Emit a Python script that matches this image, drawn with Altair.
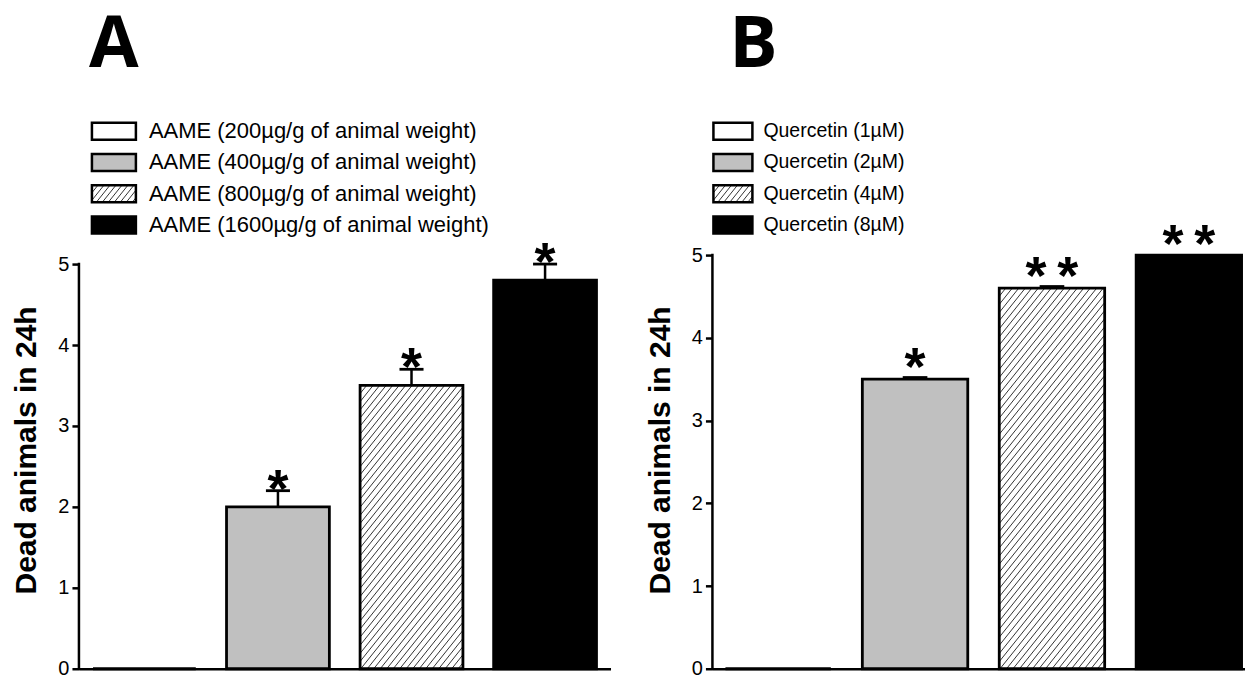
import altair as alt
import pandas as pd
import numpy as np

# ---------------- data ----------------
cats_a = ["AAME (200µg/g of animal weight)", "AAME (400µg/g of animal weight)",
          "AAME (800µg/g of animal weight)", "AAME (1600µg/g of animal weight)"]
vals_a = [0.0, 2.0, 3.5, 4.8]
errs_a = [0.0, 0.2, 0.2, 0.2]
stars_a = ["", "*", "*", "*"]

cats_b = ["Quercetin (1µM)", "Quercetin (2µM)", "Quercetin (4µM)", "Quercetin (8µM)"]
vals_b = [0.0, 3.5, 4.6, 5.0]
errs_b = [0.0, 0.02, 0.02, 0.0]
stars_b = ["", "*", "*\u2009*", "*\u2009*"]

fills = ["white", "#c0c0c0", "white", "black"]
hatched = [False, False, True, False]
y_ticks = [0, 1, 2, 3, 4, 5]
y_title = "Dead animals in 24h"

FONT = "Arial, Liberation Sans, sans-serif"
H = 414
HALF = 0.385


def hatch_px(L, R, B, T, spacing=6.5, k=1.25):
    """diagonal lines (bottom-left to top-right) clipped to a pixel rectangle"""
    h = T - B
    out = []
    x0 = L - h / k
    while x0 < R:
        x1, x2 = max(L, x0), min(R, x0 + h / k)
        if x2 > x1:
            out.append((x1, k * (x1 - x0), x2, k * (x2 - x0)))
        x0 += spacing
    return out


def panel(cats, vals, errs, stars, letter, xdom, width, ymax, star_dy, leg):
    sx = width / (xdom[1] - xdom[0])
    sy = H / ymax
    n = len(cats)
    df = pd.DataFrame({
        "idx": list(range(n)), "cat": cats, "val": vals, "err": errs,
        "star": stars, "fill": fills,
    })
    df["xl"] = df["idx"] - HALF
    df["xr"] = df["idx"] + HALF
    df["top"] = df["val"] + df["err"]
    df["cl"] = df["idx"] - 0.09
    df["cr"] = df["idx"] + 0.09
    df["zero"] = 0.0

    segs = []
    for i in range(n):
        if hatched[i] and vals[i] > 0:
            L = (i - HALF - xdom[0]) * sx
            R = (i + HALF - xdom[0]) * sx
            for (a, b, c, d) in hatch_px(L, R, 0, vals[i] * sy):
                segs.append({"hx": a / sx + xdom[0], "hy": b / sy,
                             "hx2": c / sx + xdom[0], "hy2": d / sy})
    hdf = pd.DataFrame(segs)

    xs = alt.Scale(domain=xdom, nice=False, zero=False)
    ys = alt.Scale(domain=[0, ymax], nice=False)
    xax = alt.Axis(title=None, labels=False, ticks=False, grid=False,
                   domainColor="black", domainWidth=2.5)
    yax = alt.Axis(values=y_ticks, format="d", title=y_title, grid=False, domain=False,
                   tickSize=7, tickWidth=2.5, tickColor="black",
                   labelFontSize=20, labelFont=FONT, labelColor="black",
                   labelPadding=3, titleFont=FONT, titleFontSize=30,
                   titleFontWeight="bold", titleColor="black",
                   titleX=-43, titleY=195, titleAngle=-90,
                   titleBaseline="alphabetic")

    base = alt.Chart(df)
    fill_layer = base.mark_rect(strokeWidth=0).encode(
        x=alt.X("xl:Q", scale=xs, axis=xax), x2="xr:Q",
        y=alt.Y("val:Q", scale=ys, axis=yax), y2="zero:Q",
        fill=alt.Fill("fill:N", scale=None))
    hatch_layer = alt.Chart(hdf).mark_rule(strokeWidth=1, color="#333").encode(
        x="hx:Q", x2="hx2:Q", y="hy:Q", y2="hy2:Q")
    outline = base.mark_rect(fillOpacity=0, stroke="black", strokeWidth=2.8).encode(
        x="xl:Q", x2="xr:Q", y="val:Q", y2="zero:Q")
    eb = base.transform_filter("datum.err > 0")
    err_v = eb.mark_rule(strokeWidth=2.5, color="black").encode(
        x="idx:Q", y="val:Q", y2="top:Q")
    err_c = eb.mark_rule(strokeWidth=2.8, color="black").encode(
        x="cl:Q", x2="cr:Q", y="top:Q")
    star_layer = base.mark_text(fontSize=54, fontWeight="bold", font=FONT,
                                baseline="alphabetic", dy=star_dy, color="black").encode(
        x="idx:Q", y="top:Q", text="star:N")
    yline = alt.Chart(pd.DataFrame({"lo": [min(y_ticks)], "hi": [max(y_ticks)]})).mark_rule(
        strokeWidth=2.5, color="black", strokeCap="square").encode(
        x=alt.value(0), y="lo:Q", y2="hi:Q")

    # ---- legend (pixel layout above the plot) ----
    lx, lw, lh, ltx, ly0, lstep, letx, lfs = leg
    ldf = pd.DataFrame({"cat": cats, "fill": fills, "row": list(range(n))})
    ldf["cy"] = ly0 + ldf["row"] * lstep
    ldf["bx"] = lx
    ldf["bx2"] = lx + lw
    ldf["by"] = ldf["cy"] - lh / 2
    ldf["by2"] = ldf["cy"] + lh / 2
    ldf["tx"] = ltx
    lsegs = []
    for i in range(n):
        if hatched[i]:
            cy = ly0 + i * lstep
            for (a, b, c, d) in hatch_px(lx, lx + lw, 0, lh, spacing=6):
                lsegs.append({"x": a, "y": cy + lh / 2 - b, "x2": c, "y2": cy + lh / 2 - d})
    lsdf = pd.DataFrame(lsegs)
    lb = alt.Chart(ldf)
    leg_fill = lb.mark_rect(strokeWidth=0).encode(
        x=alt.X("bx:Q", scale=None), x2="bx2:Q",
        y=alt.Y("by:Q", scale=None), y2="by2:Q",
        fill=alt.Fill("fill:N", scale=None))
    leg_hatch = alt.Chart(lsdf).mark_rule(strokeWidth=1, color="#333").encode(
        x=alt.X("x:Q", scale=None), x2="x2:Q",
        y=alt.Y("y:Q", scale=None), y2="y2:Q")
    leg_out = lb.mark_rect(fillOpacity=0, stroke="black", strokeWidth=2.5).encode(
        x=alt.X("bx:Q", scale=None), x2="bx2:Q",
        y=alt.Y("by:Q", scale=None), y2="by2:Q")
    leg_txt = lb.mark_text(align="left", baseline="middle", fontSize=lfs,
                           font=FONT, color="black").encode(
        x=alt.X("tx:Q", scale=None), y=alt.Y("cy:Q", scale=None), text="cat:N")
    let = alt.Chart(pd.DataFrame({"t": [letter]})).mark_text(
        fontSize=72, fontWeight="bold", font="Open Sans", color="black",
        align="center", baseline="alphabetic").encode(
        x=alt.value(letx), y=alt.value(-188), text="t:N")

    return alt.layer(fill_layer, hatch_layer, outline, err_v, err_c, star_layer,
                     yline, leg_fill, leg_hatch, leg_out, leg_txt, let).properties(
        width=width, height=H)


pa = panel(cats_a, vals_a, errs_a, stars_a, "A", [-0.49, 3.49], 532, 414 * 5 / 405, 16,
           (13, 44, 17, 70, -124, 31.3, 35, 22))
pb = panel(cats_b, vals_b, errs_b, stars_b, "B", [-0.48, 3.41], 533, 5.0, 7,
           (1, 39, 17, 51, -124, 31.3, 41, 19.5))

chart = alt.hconcat(pa, pb, spacing=102, bounds="flush").properties(
    padding={"left": 4, "top": 1, "right": 0, "bottom": 0}
).configure_view(stroke=None)

chart.save("out.html", embed_options={"renderer": "svg", "actions": False})
